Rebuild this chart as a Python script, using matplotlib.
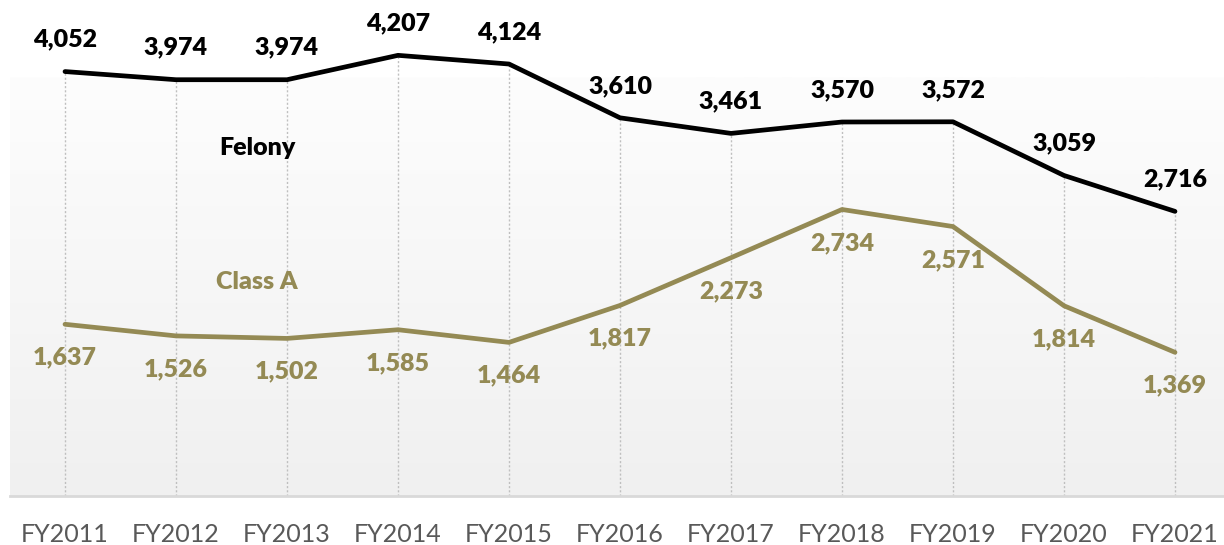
import numpy as np
import matplotlib.pyplot as plt

years = ["FY2011", "FY2012", "FY2013", "FY2014", "FY2015", "FY2016",
         "FY2017", "FY2018", "FY2019", "FY2020", "FY2021"]
felony = [4052, 3974, 3974, 4207, 4124, 3610, 3461, 3570, 3572, 3059, 2716]
class_a = [1637, 1526, 1502, 1585, 1464, 1817, 2273, 2734, 2571, 1814, 1369]

olive = "#948A54"
plt.rcParams['font.family'] = ['Lato', 'DejaVu Sans']

fig = plt.figure(figsize=(12.24, 5.45), dpi=100)
ax = fig.add_axes([9.5/1224, 49.4/545, 1221/1224, 418.6/545])
x = np.arange(len(years))

# gradient plot area
grad = np.linspace(0, 1, 256).reshape(-1, 1)
ax.imshow(grad, extent=(-0.5, 10.5, 0, 4000), aspect='auto', origin='upper',
          cmap=plt.matplotlib.colors.LinearSegmentedColormap.from_list('g', ['#fdfdfd', '#f0f0f0']),
          zorder=0)

# drop lines
ax.vlines(x, 0, np.maximum(felony, class_a), colors='#bfbfbf', linestyles=(0, (1.5, 1.5)),
          linewidth=1, zorder=1, clip_on=False)

ax.plot(x, felony, color='black', linewidth=3.4, solid_capstyle='round', zorder=3, clip_on=False)
ax.plot(x, class_a, color=olive, linewidth=3.4, solid_capstyle='round', zorder=3, clip_on=False)

for xi, v in zip(x, felony):
    ax.annotate(f"{v:,}", (xi, v), xytext=(0, 23), textcoords='offset points',
                ha='center', va='center', fontsize=18, fontweight='heavy', color='black',
                annotation_clip=False)
for xi, v in zip(x, class_a):
    ax.annotate(f"{v:,}", (xi, v), xytext=(0, -24), textcoords='offset points',
                ha='center', va='center', fontsize=18, fontweight='heavy', color=olive,
                annotation_clip=False)

ax.text(1.73, 3320, "Felony", ha='center', va='center', fontsize=18, fontweight='heavy', color='black')
ax.text(1.73, 2040, "Class A", ha='center', va='center', fontsize=18, fontweight='heavy', color=olive)

ax.set_xlim(-0.5, 10.5)
ax.set_ylim(0, 4000)
ax.set_xticks(x)
ax.set_xticklabels(years, fontsize=18, color='#595959')
ax.tick_params(axis='x', length=0, pad=20)
ax.set_yticks([])
for s in ['top', 'left', 'right']:
    ax.spines[s].set_visible(False)
ax.spines['bottom'].set_color('#d9d9d9')
ax.spines['bottom'].set_linewidth(2)

fig.savefig("out.png", dpi=100)
